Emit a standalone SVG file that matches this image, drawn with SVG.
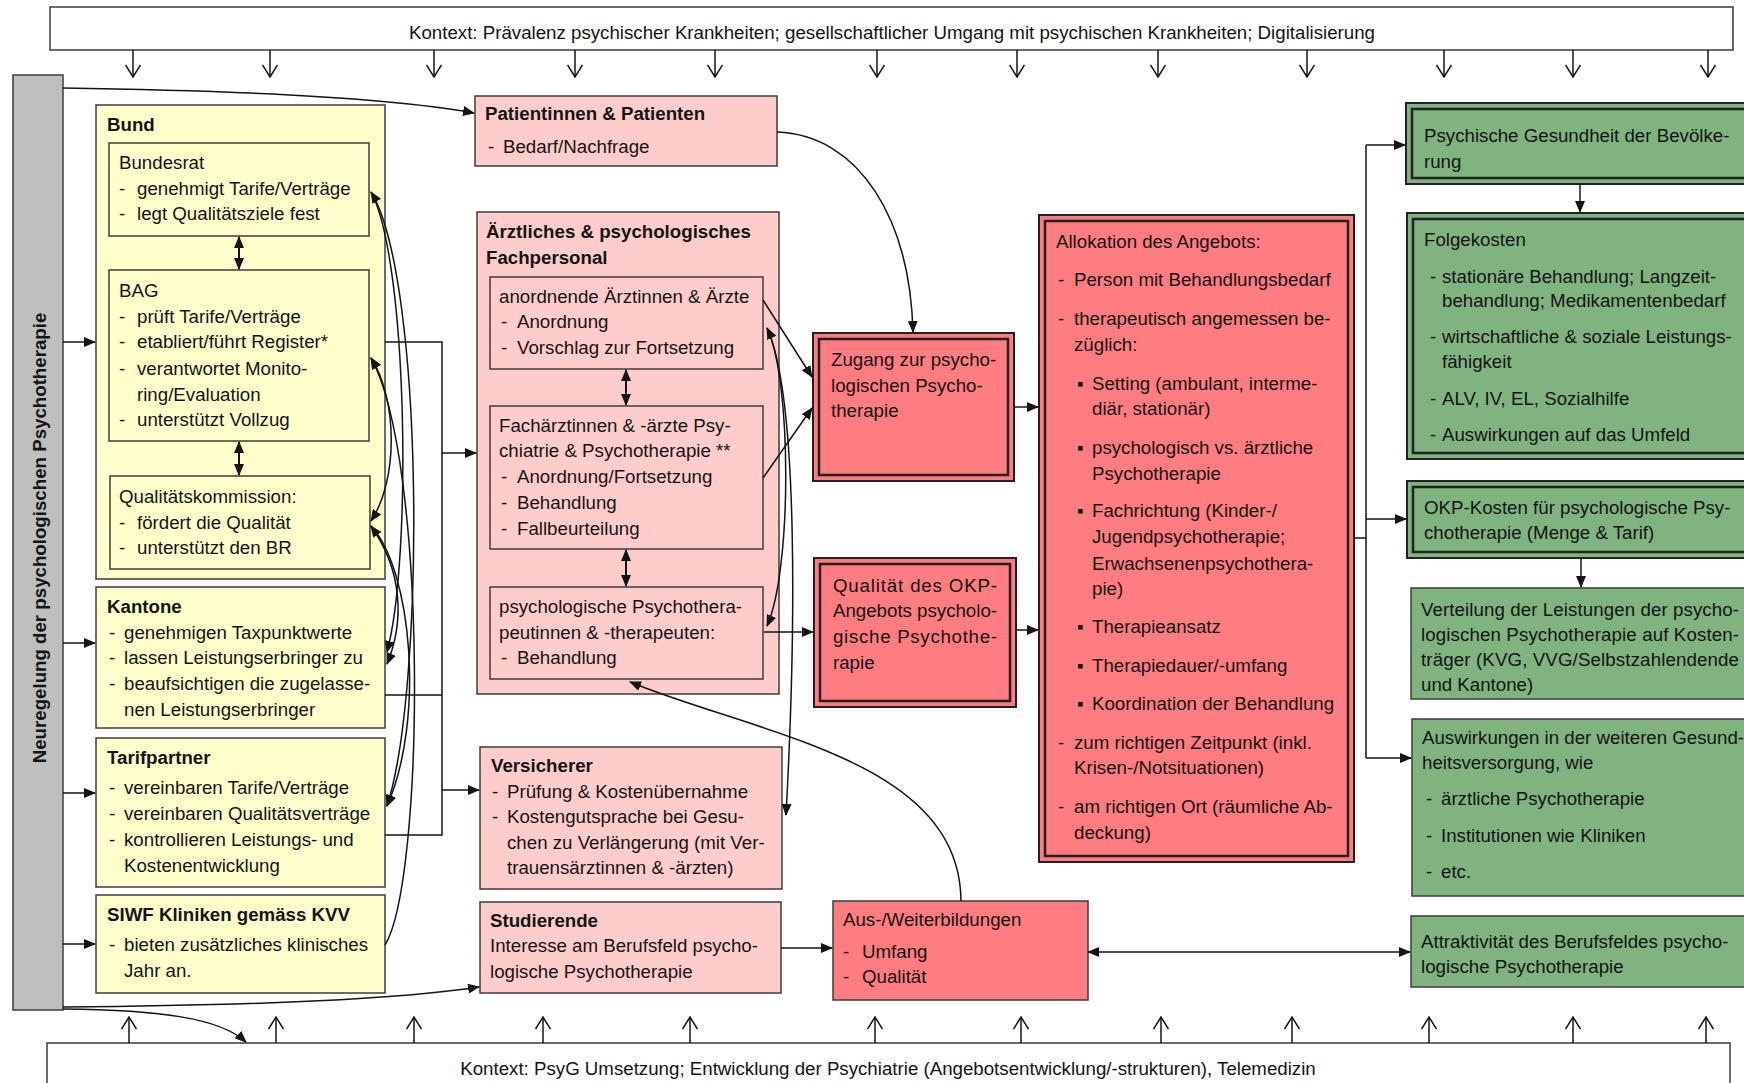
<svg xmlns="http://www.w3.org/2000/svg" width="1744" height="1083" viewBox="0 0 1744 1083">
<defs>
<style>
.t{font-family:"Liberation Sans",Arial,sans-serif;font-size:18.7px;fill:#141414}
.b{font-weight:bold}
.bx{stroke:#3c3c3c;stroke-width:1.5}
.y{fill:#ffffcc}.p{fill:#ffcccc}.r{fill:#ff7c80}.g{fill:#80b380}.w{fill:#ffffff}
.in{fill:none;stroke:#222;stroke-width:2.5}
.ob{stroke:#222;stroke-width:2}
.c{fill:none;stroke:#141414;stroke-width:1.5}
</style>
<marker id="a" viewBox="0 0 12 10" refX="11" refY="5" markerWidth="12" markerHeight="10" markerUnits="userSpaceOnUse" orient="auto-start-reverse"><path d="M0,0L12,5L0,10z" fill="#141414"/></marker>
<marker id="o" viewBox="0 0 16 16" refX="15" refY="8" markerWidth="16" markerHeight="16" markerUnits="userSpaceOnUse" orient="auto"><path d="M3,0.5L15,8L3,15.5" fill="none" stroke="#141414" stroke-width="1.5"/></marker>
</defs>
<rect width="1744" height="1083" fill="#fff"/>

<g id="context-top">
<rect class="w bx" x="50" y="7" width="1683" height="43"/>
<text class="t" x="892" y="39" text-anchor="middle">Kontext: Prävalenz psychischer Krankheiten; gesellschaftlicher Umgang mit psychischen Krankheiten; Digitalisierung</text>
</g>
<g id="context-bottom">
<rect class="w bx" x="47" y="1043" width="1683" height="60"/>
<text class="t" x="888" y="1075" text-anchor="middle">Kontext: PsyG Umsetzung; Entwicklung der Psychiatrie (Angebotsentwicklung/-strukturen), Telemedizin</text>
</g>

<g id="neuregelung">
<rect x="13" y="75" width="50" height="935" fill="#bfbfbf" class="bx"/>
<text class="t b" text-anchor="middle" transform="translate(46,538) rotate(-90)">Neuregelung der psychologischen Psychotherapie</text>
</g>

<g id="bund">
<rect class="y bx" x="96" y="105" width="289" height="474"/>
<text class="t b" x="107" y="131">Bund</text>
<g id="bundesrat">
<rect class="y bx" x="109" y="143" width="260" height="93"/>
<text class="t" x="119" y="169">Bundesrat</text>
<text class="t" y="195"><tspan x="119">-</tspan><tspan x="137">genehmigt Tarife/Verträge</tspan></text>
<text class="t" y="220"><tspan x="119">-</tspan><tspan x="137">legt Qualitätsziele fest</tspan></text>
</g>
<g id="bag">
<rect class="y bx" x="109" y="270" width="260" height="171"/>
<text class="t" x="119" y="297">BAG</text>
<text class="t" y="323"><tspan x="119">-</tspan><tspan x="137">prüft Tarife/Verträge</tspan></text>
<text class="t" y="348"><tspan x="119">-</tspan><tspan x="137">etabliert/führt Register*</tspan></text>
<text class="t" y="375"><tspan x="119">-</tspan><tspan x="137">verantwortet Monito-</tspan></text>
<text class="t" x="137" y="401">ring/Evaluation</text>
<text class="t" y="426"><tspan x="119">-</tspan><tspan x="137">unterstützt Vollzug</tspan></text>
</g>
<g id="qualitaetskommission">
<rect class="y bx" x="110" y="476" width="260" height="93"/>
<text class="t" x="119" y="503">Qualitätskommission:</text>
<text class="t" y="529"><tspan x="119">-</tspan><tspan x="137">fördert die Qualität</tspan></text>
<text class="t" y="554"><tspan x="119">-</tspan><tspan x="137">unterstützt den BR</tspan></text>
</g>
</g>

<g id="kantone">
<rect class="y bx" x="96" y="587" width="289" height="141"/>
<text class="t b" x="107" y="613">Kantone</text>
<text class="t" y="639"><tspan x="109">-</tspan><tspan x="124">genehmigen Taxpunktwerte</tspan></text>
<text class="t" y="664"><tspan x="109">-</tspan><tspan x="124">lassen Leistungserbringer zu</tspan></text>
<text class="t" y="690"><tspan x="109">-</tspan><tspan x="124">beaufsichtigen die zugelasse-</tspan></text>
<text class="t" x="124" y="716">nen Leistungserbringer</text>
</g>

<g id="tarifpartner">
<rect class="y bx" x="96" y="738" width="289" height="149"/>
<text class="t b" x="107" y="764">Tarifpartner</text>
<text class="t" y="794"><tspan x="109">-</tspan><tspan x="124">vereinbaren Tarife/Verträge</tspan></text>
<text class="t" y="820"><tspan x="109">-</tspan><tspan x="124">vereinbaren Qualitätsverträge</tspan></text>
<text class="t" y="846"><tspan x="109">-</tspan><tspan x="124">kontrollieren Leistungs- und</tspan></text>
<text class="t" x="124" y="872">Kostenentwicklung</text>
</g>

<g id="siwf">
<rect class="y bx" x="96" y="895" width="289" height="98"/>
<text class="t b" x="107" y="921">SIWF Kliniken gemäss KVV</text>
<text class="t" y="951"><tspan x="109">-</tspan><tspan x="124">bieten zusätzliches klinisches</tspan></text>
<text class="t" x="124" y="977">Jahr an.</text>
</g>

<g id="patienten">
<rect class="p bx" x="475" y="96" width="302" height="70"/>
<text class="t b" x="485" y="120">Patientinnen &amp; Patienten</text>
<text class="t" y="153"><tspan x="488">-</tspan><tspan x="503">Bedarf/Nachfrage</tspan></text>
</g>

<g id="fachpersonal">
<rect class="p bx" x="477" y="212" width="302" height="482"/>
<text class="t b" x="486" y="238">Ärztliches &amp; psychologisches</text>
<text class="t b" x="486" y="264">Fachpersonal</text>
<g id="anordnende">
<rect class="p bx" x="490" y="277" width="273" height="92"/>
<text class="t" x="499" y="303">anordnende Ärztinnen &amp; Ärzte</text>
<text class="t" y="328"><tspan x="501">-</tspan><tspan x="517">Anordnung</tspan></text>
<text class="t" y="354"><tspan x="501">-</tspan><tspan x="517">Vorschlag zur Fortsetzung</tspan></text>
</g>
<g id="fachaerzte">
<rect class="p bx" x="490" y="406" width="273" height="143"/>
<text class="t" x="499" y="432">Fachärztinnen &amp; -ärzte Psy-</text>
<text class="t" x="499" y="457">chiatrie &amp; Psychotherapie **</text>
<text class="t" y="483"><tspan x="501">-</tspan><tspan x="517">Anordnung/Fortsetzung</tspan></text>
<text class="t" y="509"><tspan x="501">-</tspan><tspan x="517">Behandlung</tspan></text>
<text class="t" y="535"><tspan x="501">-</tspan><tspan x="517">Fallbeurteilung</tspan></text>
</g>
<g id="psychotherapeuten">
<rect class="p bx" x="490" y="587" width="273" height="92"/>
<text class="t" x="499" y="613">psychologische Psychothera-</text>
<text class="t" x="499" y="639">peutinnen &amp; -therapeuten:</text>
<text class="t" y="664"><tspan x="501">-</tspan><tspan x="517">Behandlung</tspan></text>
</g>
</g>

<g id="versicherer">
<rect class="p bx" x="480" y="747" width="302" height="142"/>
<text class="t b" x="491" y="772">Versicherer</text>
<text class="t" y="798"><tspan x="492">-</tspan><tspan x="507">Prüfung &amp; Kostenübernahme</tspan></text>
<text class="t" y="823"><tspan x="492">-</tspan><tspan x="507">Kostengutsprache bei Gesu-</tspan></text>
<text class="t" x="507" y="849">chen zu Verlängerung (mit Ver-</text>
<text class="t" x="507" y="874">trauensärztinnen &amp; -ärzten)</text>
</g>

<g id="studierende">
<rect class="p bx" x="480" y="902" width="301" height="91"/>
<text class="t b" x="490" y="927">Studierende</text>
<text class="t" x="490" y="952">Interesse am Berufsfeld psycho-</text>
<text class="t" x="490" y="978">logische Psychotherapie</text>
</g>

<g id="zugang">
<rect class="r ob" x="813" y="333" width="201" height="148"/>
<rect class="in" x="819" y="339" width="189" height="136"/>
<text class="t" x="831" y="366">Zugang zur psycho-</text>
<text class="t" x="831" y="392">logischen Psycho-</text>
<text class="t" x="831" y="417">therapie</text>
</g>

<g id="qualitaet">
<rect class="r ob" x="814" y="558" width="202" height="149"/>
<rect class="in" x="820" y="564" width="190" height="137"/>
<text class="t" x="833" y="592" textLength="164" lengthAdjust="spacing">Qualität des OKP-</text>
<text class="t" x="833" y="617" textLength="164" lengthAdjust="spacing">Angebots psycholo-</text>
<text class="t" x="833" y="643" textLength="164" lengthAdjust="spacing">gische Psychothe-</text>
<text class="t" x="833" y="669">rapie</text>
</g>

<g id="allokation">
<rect class="r ob" x="1039" y="215" width="315" height="647"/>
<rect class="in" x="1045" y="221" width="303" height="635"/>
<text class="t" x="1056" y="248">Allokation des Angebots:</text>
<text class="t" y="286"><tspan x="1058">-</tspan><tspan x="1074">Person mit Behandlungsbedarf</tspan></text>
<text class="t" y="325"><tspan x="1058">-</tspan><tspan x="1074">therapeutisch angemessen be-</tspan></text>
<text class="t" x="1074" y="351">züglich:</text>
<text class="t" y="390"><tspan x="1077">▪</tspan><tspan x="1092">Setting (ambulant, interme-</tspan></text>
<text class="t" x="1092" y="415">diär, stationär)</text>
<text class="t" y="454"><tspan x="1077">▪</tspan><tspan x="1092">psychologisch vs. ärztliche</tspan></text>
<text class="t" x="1092" y="480">Psychotherapie</text>
<text class="t" y="517"><tspan x="1077">▪</tspan><tspan x="1092">Fachrichtung (Kinder-/</tspan></text>
<text class="t" x="1092" y="543">Jugendpsychotherapie;</text>
<text class="t" x="1092" y="570">Erwachsenenpsychothera-</text>
<text class="t" x="1092" y="595">pie)</text>
<text class="t" y="633"><tspan x="1077">▪</tspan><tspan x="1092">Therapieansatz</tspan></text>
<text class="t" y="672"><tspan x="1077">▪</tspan><tspan x="1092">Therapiedauer/-umfang</tspan></text>
<text class="t" y="710"><tspan x="1077">▪</tspan><tspan x="1092">Koordination der Behandlung</tspan></text>
<text class="t" y="749"><tspan x="1058">-</tspan><tspan x="1074">zum richtigen Zeitpunkt (inkl.</tspan></text>
<text class="t" x="1074" y="774">Krisen-/Notsituationen)</text>
<text class="t" y="813"><tspan x="1058">-</tspan><tspan x="1074">am richtigen Ort (räumliche Ab-</tspan></text>
<text class="t" x="1074" y="839">deckung)</text>
</g>

<g id="weiterbildungen">
<rect class="r bx" x="833" y="901" width="255" height="99"/>
<text class="t" x="843" y="926">Aus-/Weiterbildungen</text>
<text class="t" y="958"><tspan x="843">-</tspan><tspan x="862">Umfang</tspan></text>
<text class="t" y="983"><tspan x="843">-</tspan><tspan x="862">Qualität</tspan></text>
</g>

<g id="gesundheit">
<rect class="g ob" x="1406" y="103" width="360" height="81"/>
<rect class="in" x="1412" y="109" width="348" height="69"/>
<text class="t" x="1424" y="142">Psychische Gesundheit der Bevölke-</text>
<text class="t" x="1424" y="168">rung</text>
</g>

<g id="folgekosten">
<rect class="g ob" x="1407" y="213" width="360" height="246"/>
<rect class="in" x="1413" y="219" width="348" height="234"/>
<text class="t" x="1424" y="246">Folgekosten</text>
<text class="t" y="283"><tspan x="1430">-</tspan><tspan x="1442">stationäre Behandlung; Langzeit-</tspan></text>
<text class="t" x="1442" y="307">behandlung; Medikamentenbedarf</text>
<text class="t" y="343"><tspan x="1430">-</tspan><tspan x="1442">wirtschaftliche &amp; soziale Leistungs-</tspan></text>
<text class="t" x="1442" y="368">fähigkeit</text>
<text class="t" y="405"><tspan x="1430">-</tspan><tspan x="1442">ALV, IV, EL, Sozialhilfe</tspan></text>
<text class="t" y="441"><tspan x="1430">-</tspan><tspan x="1442">Auswirkungen auf das Umfeld</tspan></text>
</g>

<g id="okp-kosten">
<rect class="g ob" x="1407" y="481" width="360" height="77"/>
<rect class="in" x="1413" y="487" width="348" height="65"/>
<text class="t" x="1424" y="514">OKP-Kosten für psychologische Psy-</text>
<text class="t" x="1424" y="539">chotherapie (Menge &amp; Tarif)</text>
</g>

<g id="verteilung">
<rect class="g bx" x="1411" y="588" width="360" height="111"/>
<text class="t" x="1421" y="616" textLength="318" lengthAdjust="spacing">Verteilung der Leistungen der psycho-</text>
<text class="t" x="1421" y="641" textLength="318" lengthAdjust="spacing">logischen Psychotherapie auf Kosten-</text>
<text class="t" x="1421" y="666" textLength="318" lengthAdjust="spacing">träger (KVG, VVG/Selbstzahlendende</text>
<text class="t" x="1421" y="691">und Kantone)</text>
</g>

<g id="auswirkungen">
<rect class="g bx" x="1412" y="719" width="360" height="177"/>
<text class="t" x="1422" y="744">Auswirkungen in der weiteren Gesund-</text>
<text class="t" x="1422" y="769">heitsversorgung, wie</text>
<text class="t" y="805"><tspan x="1426">-</tspan><tspan x="1441">ärztliche Psychotherapie</tspan></text>
<text class="t" y="842"><tspan x="1426">-</tspan><tspan x="1441">Institutionen wie Kliniken</tspan></text>
<text class="t" y="878"><tspan x="1426">-</tspan><tspan x="1441">etc.</tspan></text>
</g>

<g id="attraktivitaet">
<rect class="g bx" x="1411" y="916" width="360" height="71"/>
<text class="t" x="1421" y="948">Attraktivität des Berufsfeldes psycho-</text>
<text class="t" x="1421" y="973">logische Psychotherapie</text>
</g>

<g id="connectors">
<g class="c" marker-end="url(#o)">
<path d="M133,50V77"/><path d="M270,50V77"/><path d="M434,50V77"/><path d="M575,50V77"/><path d="M715,50V77"/><path d="M877,50V77"/><path d="M1017,50V77"/><path d="M1158,50V77"/><path d="M1307,50V77"/><path d="M1444,50V77"/><path d="M1573,50V77"/><path d="M1708,50V77"/>
<path d="M129,1043V1017"/><path d="M276,1043V1017"/><path d="M414,1043V1017"/><path d="M543,1043V1017"/><path d="M690,1043V1017"/><path d="M875,1043V1017"/><path d="M1021,1043V1017"/><path d="M1161,1043V1017"/><path d="M1292,1043V1017"/><path d="M1429,1043V1017"/><path d="M1573,1043V1017"/><path d="M1706,1043V1017"/>
</g>
<g class="c" marker-end="url(#a)">
<path d="M63,88C200,90 380,96 474,113"/>
<path d="M63,342H95"/>
<path d="M63,643H95"/>
<path d="M63,793H95"/>
<path d="M63,944H95"/>
<path d="M63,1007C200,1006 380,1002 479,987"/>
<path d="M63,1009C160,1010 220,1018 246,1042"/>
<path d="M442,453H476"/>
<path d="M442,790H479"/>
<path d="M777,132C860,135 910,220 913,332"/>
<path d="M763,300L812,377"/>
<path d="M763,478L812,408"/>
<path d="M764,632H813"/>
<path d="M767,328C800,400 795,650 786,815"/>
<path d="M961,901C960,760 760,735 630,682"/>
<path d="M1014,407H1038"/>
<path d="M1016,630H1038"/>
<path d="M1366,145H1405"/>
<path d="M1366,519H1406"/>
<path d="M1366,758H1411"/>
<path d="M1580,184V212"/>
<path d="M1581,558V587"/>
<path d="M781,948H832"/>
<path d="M385,945C425,880 428,460 371,358"/>
</g>
<g class="c" marker-start="url(#a)" marker-end="url(#a)">
<path d="M239,237V269" stroke-width="2"/>
<path d="M239,442V475" stroke-width="2"/>
<path d="M626,370V405" stroke-width="2"/>
<path d="M626,550V586" stroke-width="2"/>
<path d="M1088,952H1410"/>
<path d="M387,806C425,690 425,280 371,192"/>
<path d="M371,358C398,400 398,480 371,521"/>
<path d="M387,664C405,620 402,570 371,526"/>
<path d="M767,328C792,380 792,570 767,626"/>
</g>
<path class="c" d="M387,652C412,560 408,260 371,192" marker-start="url(#a)"/>
<path class="c" d="M371,526C412,570 425,720 387,806" stroke-width="2" marker-end="url(#a)"/>
<path class="c" d="M385,342H442V835H385M385,695H442"/>
<path class="c" d="M1354,538H1366M1366,145V758" stroke-width="2"/>
</g>
</svg>
